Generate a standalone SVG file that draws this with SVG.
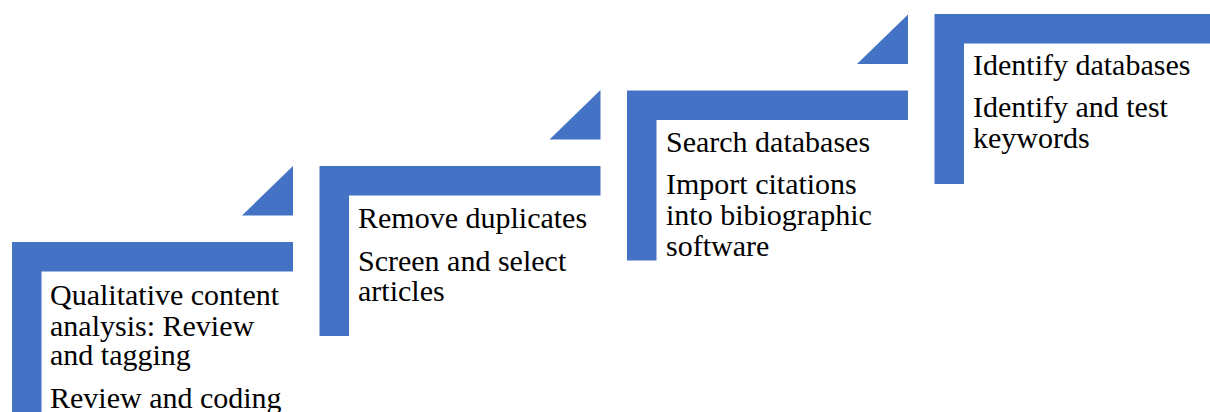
<svg xmlns="http://www.w3.org/2000/svg" width="1210" height="412" viewBox="0 0 1210 412">
  <rect width="1210" height="412" fill="#fff"/>
  <g id="step1">
    <path fill="#4472C4" d="M12,242 H293 V271.5 H41.5 V412 H12 Z"/>
    <polygon fill="#4472C4" points="293,166 293,215.5 242,215.5"/>
    <text x="50" y="305" font-family="Liberation Serif" font-size="30" style="font-family:'Liberation Serif',serif !important">Qualitative content</text>
    <text x="50" y="336" font-family="Liberation Serif" font-size="30" style="font-family:'Liberation Serif',serif !important">analysis: Review</text>
    <text x="50" y="365" font-family="Liberation Serif" font-size="30" style="font-family:'Liberation Serif',serif !important">and tagging</text>
    <text x="50" y="408" font-family="Liberation Serif" font-size="30" style="font-family:'Liberation Serif',serif !important">Review and coding</text>
  </g>
  <g id="step2">
    <path fill="#4472C4" d="M319.5,166 H600.5 V195.5 H349 V336 H319.5 Z"/>
    <polygon fill="#4472C4" points="600.5,90 600.5,139.5 549.5,139.5"/>
    <text x="358" y="228" font-family="Liberation Serif" font-size="30" style="font-family:'Liberation Serif',serif !important">Remove duplicates</text>
    <text x="358" y="271" font-family="Liberation Serif" font-size="30" style="font-family:'Liberation Serif',serif !important">Screen and select</text>
    <text x="358" y="301" font-family="Liberation Serif" font-size="30" style="font-family:'Liberation Serif',serif !important">articles</text>
  </g>
  <g id="step3">
    <path fill="#4472C4" d="M627,90.5 H908 V120 H656.5 V260.5 H627 Z"/>
    <polygon fill="#4472C4" points="908,14.5 908,64 857,64"/>
    <text x="666" y="152" font-family="Liberation Serif" font-size="30" style="font-family:'Liberation Serif',serif !important">Search databases</text>
    <text x="666" y="194" font-family="Liberation Serif" font-size="30" style="font-family:'Liberation Serif',serif !important">Import citations</text>
    <text x="666" y="225" font-family="Liberation Serif" font-size="30" style="font-family:'Liberation Serif',serif !important">into bibiographic</text>
    <text x="666" y="256" font-family="Liberation Serif" font-size="30" style="font-family:'Liberation Serif',serif !important">software</text>
  </g>
  <g id="step4">
    <path fill="#4472C4" d="M934.5,14 H1215.5 V43.5 H964 V184 H934.5 Z"/>
    <text x="973" y="75" font-family="Liberation Serif" font-size="30" style="font-family:'Liberation Serif',serif !important">Identify databases</text>
    <text x="973" y="117" font-family="Liberation Serif" font-size="30" style="font-family:'Liberation Serif',serif !important">Identify and test</text>
    <text x="973" y="148" font-family="Liberation Serif" font-size="30" style="font-family:'Liberation Serif',serif !important">keywords</text>
  </g>
  <g id="connectors"/>
</svg>
